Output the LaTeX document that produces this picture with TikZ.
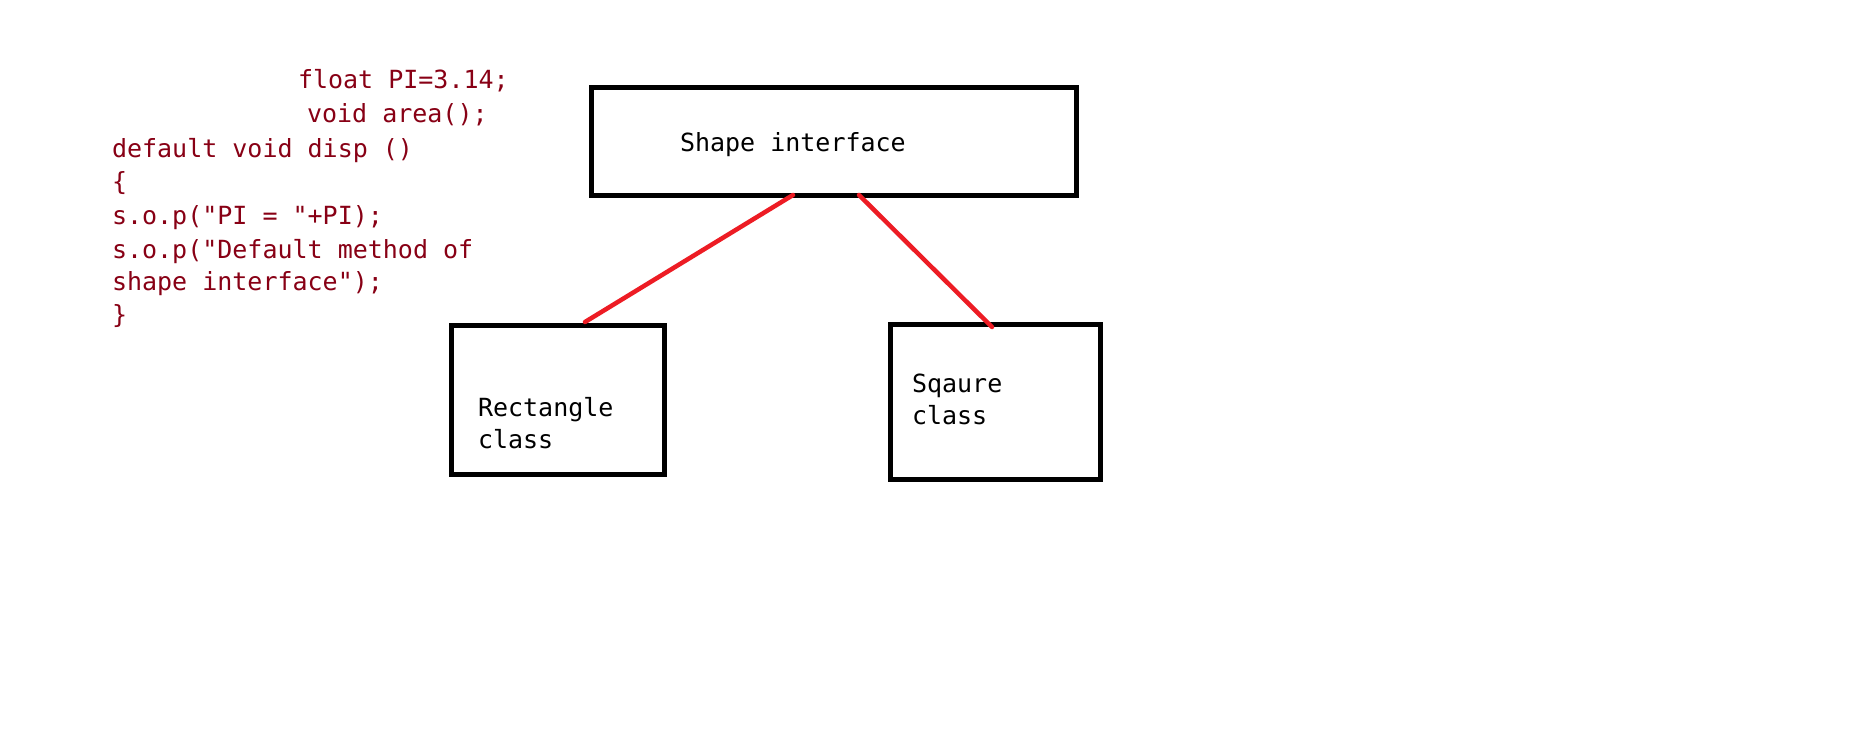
\documentclass[tikz,border=0pt]{standalone}
\usepackage{fontspec}
\setmonofont{DejaVu Sans Mono}
\definecolor{codered}{RGB}{136,0,21}
\definecolor{linkred}{RGB}{237,28,36}
\begin{document}
\begin{tikzpicture}[x=0.5pt,y=-0.5pt,
  every node/.style={font=\ttfamily\fontsize{12.5pt}{16pt}\selectfont, inner sep=0pt, outer sep=0pt},
  code/.style={anchor=base west, text=codered},
  label/.style={anchor=base west, text=black},
  classbox/.style={draw=black, line width=2.5pt, rectangle, minimum width=#1},
  link/.style={draw=linkred, line width=2.25pt, line cap=round}
]
\useasboundingbox (0,0) rectangle (1852,743);
\fill[white] (0,0) rectangle (1852,743);

% code text
\node[code] (c1) at (298,89)  {float PI=3.14;};
\node[code] (c2) at (307,123) {void area();};
\node[code] (c3) at (112,158) {default void disp ()};
\node[code] (c4) at (112,191) {\{};
\node[code] (c5) at (112,225) {s.o.p("PI = "+PI);};
\node[code] (c6) at (112,258) {s.o.p("Default method of};
\node[code] (c7) at (112,291) {shape interface");};
\node[code] (c8) at (112,323) {\}};

% boxes
\node[classbox=242.5pt, minimum height=54pt] (shape) at (833.5,142) {};
\node[classbox=106.5pt, minimum height=74.5pt] (rect) at (557.5,399.5) {};
\node[classbox=105pt, minimum height=77.5pt] (square) at (995,401.5) {};

% labels
\node[label] (tshape) at (680,152) {Shape interface};
\node[label] (trect1) at (478,416) {Rectangle};
\node[label] (trect2) at (478,448) {class};
\node[label] (tsq1) at (912,392) {Sqaure};
\node[label] (tsq2) at (912,424) {class};

% connectors
\draw[link] ([xshift=101pt,yshift=0.5pt]shape.south west) -- ([xshift=67pt,yshift=1.5pt]rect.north west);
\draw[link] ([xshift=134pt,yshift=0.5pt]shape.south west) -- ([xshift=51pt,yshift=-1.5pt]square.north west);
\end{tikzpicture}
\end{document}
